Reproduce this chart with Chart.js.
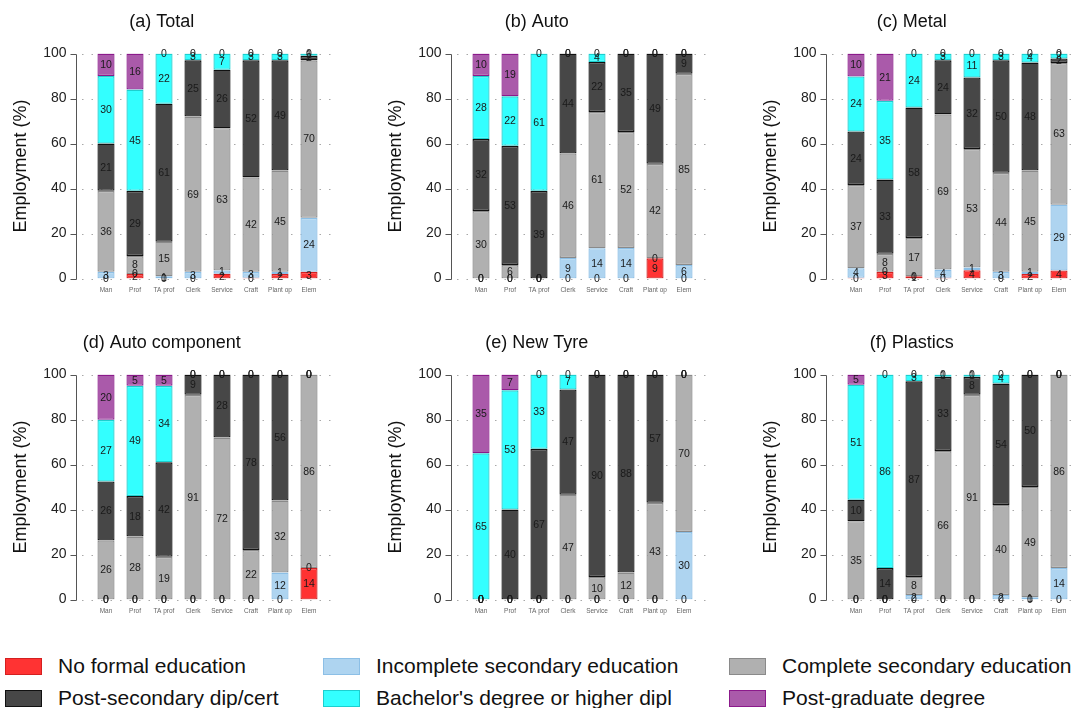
<!DOCTYPE html>
<html>
<head>
<meta charset="utf-8">
<script src="https://cdn.jsdelivr.net/npm/chart.js@4.4.1/dist/chart.umd.min.js"></script>
<style>
  html, body { margin: 0; padding: 0; background: #fff; overflow: hidden; width: 1079px; height: 708px; }
  body { position: relative; font-family: "Liberation Sans", Arial, sans-serif; }
  .panel { position: absolute; }
  .lg { position: absolute; height: 24px; display: flex; align-items: center; font-size: 21px; color: #111; white-space: nowrap; }
  .lg .box { display: inline-block; width: 35px; height: 15px; border: 1.5px solid; margin-right: 16px; }
</style>
</head>
<body>
<div class="panel" style="left:0px;top:0px"><canvas id="p0" width="340" height="312"></canvas></div>
<div class="panel" style="left:375px;top:0px"><canvas id="p1" width="340" height="312"></canvas></div>
<div class="panel" style="left:750px;top:0px"><canvas id="p2" width="340" height="312"></canvas></div>
<div class="panel" style="left:0px;top:321px"><canvas id="p3" width="340" height="312"></canvas></div>
<div class="panel" style="left:375px;top:321px"><canvas id="p4" width="340" height="312"></canvas></div>
<div class="panel" style="left:750px;top:321px"><canvas id="p5" width="340" height="312"></canvas></div>
<div id="legend"></div>

<script>
// Occupation categories and education levels (stacked bottom to top)
const categories = ['Man', 'Prof', 'TA prof', 'Clerk', 'Service', 'Craft', 'Plant op', 'Elem'];
const seriesNames = [
  'No formal education',
  'Incomplete secondary education',
  'Complete secondary education',
  'Post-secondary dip/cert',
  "Bachelor's degree or higher dipl",
  'Post-graduate degree'
];
const yTicks = [0, 20, 40, 60, 80, 100];
const panelTitles = ['(a) Total', '(b) Auto', '(c) Metal', '(d) Auto component', '(e) New Tyre', '(f) Plastics'];

// (a) Total
const totalNoFormal   = [0, 2, 0, 0, 2.2, 0.4, 2, 3];
const totalIncomplete = [3, 0, 1, 3, 1.4, 2.6, 1, 24];
const totalComplete   = [36, 8, 15.4, 69, 63.2, 42, 45, 70];
const totalPostSec    = [21, 29, 61.3, 25, 26, 52, 49, 2];
const totalBachelor   = [30, 45, 22.3, 3, 7.2, 3, 3, 1];
const totalPostGrad   = [10, 16, 0, 0, 0, 0, 0, 0];

// (b) Auto
const autoNoFormal   = [0, 0, 0, 0, 0, 0, 9, 0];
const autoIncomplete = [0, 0, 0, 9.2, 13.5, 13.6, 0, 6];
const autoComplete   = [30, 6, 0, 46.4, 60.6, 51.6, 42, 85];
const autoPostSec    = [32, 53, 39, 44.4, 22.2, 34.8, 49, 9];
const autoBachelor   = [28, 22, 61, 0, 3.7, 0, 0, 0];
const autoPostGrad   = [10, 19, 0, 0, 0, 0, 0, 0];

// (c) Metal
const metalNoFormal   = [0.4, 3, 1, 0.4, 3.7, 0, 2, 3.6];
const metalIncomplete = [4.2, 0, 0, 3.6, 1.2, 3, 1, 29.2];
const metalComplete   = [37, 8, 17, 69, 52.7, 44, 45, 63];
const metalPostSec    = [23.8, 33, 58, 24, 31.8, 50, 48, 2];
const metalBachelor   = [24.4, 35, 24, 3, 10.6, 3, 4, 2.2];
const metalPostGrad   = [10.2, 21, 0, 0, 0, 0, 0, 0];

// (d) Auto component
const compNoFormal   = [0, 0, 0, 0, 0, 0, 0, 14];
const compIncomplete = [0, 0, 0, 0, 0, 0, 12, 0];
const compComplete   = [26.3, 28, 19, 91, 72, 22, 32, 86];
const compPostSec    = [26.2, 18, 42, 9, 28, 78, 56, 0];
const compBachelor   = [27.4, 49, 34, 0, 0, 0, 0, 0];
const compPostGrad   = [20.1, 5, 5, 0, 0, 0, 0, 0];

// (e) New Tyre
const tyreNoFormal   = [0, 0, 0, 0, 0, 0, 0, 0];
const tyreIncomplete = [0, 0, 0, 0, 0, 0, 0, 30];
const tyreComplete   = [0, 0, 0, 46.6, 10, 12, 43, 70];
const tyrePostSec    = [0, 40, 67, 46.8, 90, 88, 57, 0];
const tyreBachelor   = [65, 53, 33, 6.6, 0, 0, 0, 0];
const tyrePostGrad   = [35, 7, 0, 0, 0, 0, 0, 0];

// (f) Plastics
const plastNoFormal   = [0, 0, 0, 0, 0, 0, 0, 0];
const plastIncomplete = [0, 0, 2, 0, 0, 2, 1, 14];
const plastComplete   = [34.8, 0, 8, 66, 91, 40, 49, 86];
const plastPostSec    = [9.6, 14, 87, 33, 8, 54, 50, 0];
const plastBachelor   = [51.1, 86, 3, 1, 1, 4, 0, 0];
const plastPostGrad   = [4.5, 0, 0, 0, 0, 0, 0, 0];

const panelSeries = [
  [totalNoFormal, totalIncomplete, totalComplete, totalPostSec, totalBachelor, totalPostGrad],
  [autoNoFormal, autoIncomplete, autoComplete, autoPostSec, autoBachelor, autoPostGrad],
  [metalNoFormal, metalIncomplete, metalComplete, metalPostSec, metalBachelor, metalPostGrad],
  [compNoFormal, compIncomplete, compComplete, compPostSec, compBachelor, compPostGrad],
  [tyreNoFormal, tyreIncomplete, tyreComplete, tyrePostSec, tyreBachelor, tyrePostGrad],
  [plastNoFormal, plastIncomplete, plastComplete, plastPostSec, plastBachelor, plastPostGrad]
];

const fills   = ['#ff3333', '#aed4f0', '#b0b0b0', '#474747', '#33ffff', '#aa5aaa'];
const borders = ['#d42020', '#8cbfe6', '#8a8a8a', '#111111', '#1ccfcf', '#8b1a8b'];
const FONT = '"Liberation Sans", Arial, sans-serif';

// Dotted horizontal guides plus a detached left axis line with outward ticks
const axisPlugin = {
  id: 'detachedAxis',
  beforeDatasetsDraw(chart) {
    const { ctx, chartArea: a, scales: { y } } = chart;
    ctx.save();
    ctx.lineWidth = 1;
    ctx.strokeStyle = '#a8a8a8';
    ctx.setLineDash([1.5, 8]);
    yTicks.forEach(v => {
      const py = Math.round(y.getPixelForValue(v)) + 0.5;
      ctx.beginPath();
      ctx.moveTo(a.left - 9.5, py);
      ctx.lineTo(a.right + 14, py);
      ctx.stroke();
    });
    ctx.setLineDash([]);
    ctx.strokeStyle = '#555';
    const ax = Math.round(a.left - 15.5) + 0.5;
    ctx.beginPath();
    ctx.moveTo(ax, Math.round(y.getPixelForValue(0)) + 0.5);
    ctx.lineTo(ax, Math.round(y.getPixelForValue(100)) + 0.5);
    ctx.stroke();
    yTicks.forEach(v => {
      const py = Math.round(y.getPixelForValue(v)) + 0.5;
      ctx.beginPath();
      ctx.moveTo(ax - 6, py);
      ctx.lineTo(ax, py);
      ctx.stroke();
    });
    ctx.restore();
  }
};

// Value of each segment written at its vertical centre
const segmentLabels = {
  id: 'segmentLabels',
  afterDatasetsDraw(chart) {
    const ctx = chart.ctx;
    ctx.save();
    ctx.font = '10.5px ' + FONT;
    ctx.fillStyle = '#1a1a1a';
    ctx.textAlign = 'center';
    ctx.textBaseline = 'middle';
    chart.data.datasets.forEach((ds, i) => {
      chart.getDatasetMeta(i).data.forEach((el, j) => {
        const p = el.getProps(['x', 'y', 'base'], true);
        ctx.fillText(String(Math.round(ds.data[j])), p.x, (p.y + p.base) / 2 + 0.5);
      });
    });
    ctx.restore();
  }
};

function makePanel(idx) {
  const series = panelSeries[idx];
  new Chart(document.getElementById('p' + idx), {
    type: 'bar',
    data: {
      labels: categories,
      datasets: seriesNames.map((name, i) => ({
        label: name,
        data: series[i],
        backgroundColor: fills[i],
        borderColor: borders[i],
        borderWidth: 1.3,
        borderSkipped: false,
        barPercentage: 0.59,
        categoryPercentage: 1
      }))
    },
    options: {
      responsive: false,
      animation: false,
      devicePixelRatio: 1,
      layout: { padding: { left: 0, right: 16.5, top: 0, bottom: 0 } },
      plugins: {
        legend: { display: false },
        tooltip: { enabled: false },
        title: {
          display: true,
          text: panelTitles[idx],
          color: '#111',
          font: { family: FONT, size: 18, weight: 'normal' },
          padding: { top: 11, bottom: 21 }
        }
      },
      scales: {
        x: {
          stacked: true,
          grid: { display: false, drawTicks: false },
          border: { display: false },
          ticks: { font: { family: FONT, size: 6.5 }, color: '#666', padding: 8, maxRotation: 0, autoSkip: false },
          afterFit(s) { s.height = 20.5; }
        },
        y: {
          stacked: true,
          min: 0,
          max: 100,
          afterBuildTicks(s) { s.ticks = yTicks.map(v => ({ value: v })); },
          ticks: { font: { family: FONT, size: 14 }, color: '#222', padding: 25 },
          grid: { display: false, drawTicks: false },
          border: { display: false },
          title: {
            display: true,
            text: 'Employment (%)',
            color: '#111',
            font: { family: FONT, size: 18 },
            padding: { top: 10, bottom: 0 }
          },
          afterFit(s) { s.width = 91.5; }
        }
      }
    },
    plugins: [axisPlugin, segmentLabels]
  });
}

for (let i = 0; i < 6; i++) makePanel(i);

// Legend: three columns, two rows
const legendPos = [
  { left: 5, top: 654 }, { left: 323, top: 654 }, { left: 729, top: 654 },
  { left: 5, top: 686 }, { left: 323, top: 686 }, { left: 729, top: 686 }
];
const legendOrder = [0, 1, 2, 3, 4, 5];
const legend = document.getElementById('legend');
legendOrder.forEach((s, k) => {
  const item = document.createElement('div');
  item.className = 'lg';
  item.style.left = legendPos[k].left + 'px';
  item.style.top = legendPos[k].top + 'px';
  const box = document.createElement('span');
  box.className = 'box';
  box.style.background = fills[s];
  box.style.borderColor = borders[s];
  item.appendChild(box);
  item.appendChild(document.createTextNode(seriesNames[s]));
  legend.appendChild(item);
});
</script>
</body>
</html>
